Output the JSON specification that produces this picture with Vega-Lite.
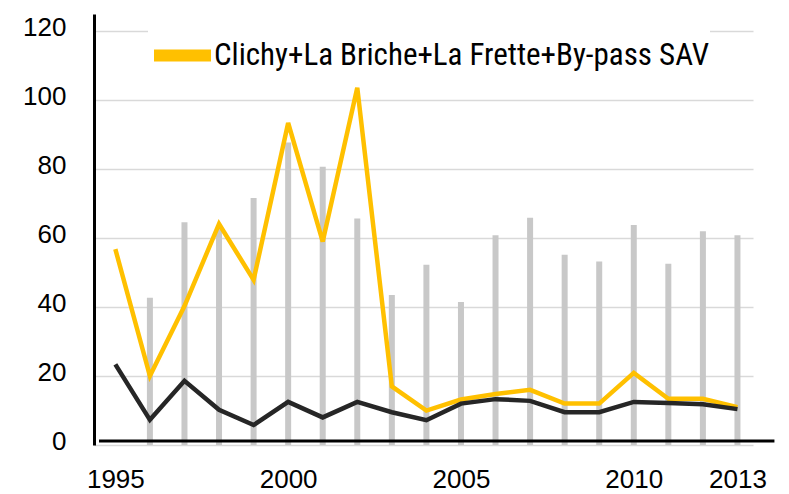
{
  "$schema": "https://vega.github.io/schema/vega-lite/v6.json",
  "autosize": {"type": "none"},
  "padding": {"left": 94, "top": 14, "right": 36, "bottom": 49},
  "width": 659,
  "height": 431,
  "background": "white",
  "config": {
    "view": {"stroke": null},
    "font": "Liberation Sans"
  },
  "data": {
    "values": [
      {"year": 1995, "bar": null, "orange": 56.8, "black": 23.4},
      {"year": 1996, "bar": 42.7, "orange": 20.0, "black": 7.3},
      {"year": 1997, "bar": 64.6, "orange": 40.3, "black": 18.6},
      {"year": 1998, "bar": 63.0, "orange": 64.1, "black": 10.2},
      {"year": 1999, "bar": 71.6, "orange": 47.9, "black": 5.8},
      {"year": 2000, "bar": 87.7, "orange": 93.4, "black": 12.5},
      {"year": 2001, "bar": 80.7, "orange": 59.0, "black": 8.0},
      {"year": 2002, "bar": 65.7, "orange": 103.6, "black": 12.5},
      {"year": 2003, "bar": 43.5, "orange": 17.0, "black": 9.5},
      {"year": 2004, "bar": 52.3, "orange": 10.0, "black": 7.2},
      {"year": 2005, "bar": 41.5, "orange": 13.2, "black": 12.0},
      {"year": 2006, "bar": 60.8, "orange": 14.8, "black": 13.3},
      {"year": 2007, "bar": 65.9, "orange": 16.0, "black": 12.8},
      {"year": 2008, "bar": 55.2, "orange": 12.0, "black": 9.5},
      {"year": 2009, "bar": 53.2, "orange": 12.0, "black": 9.5},
      {"year": 2010, "bar": 63.8, "orange": 20.9, "black": 12.5},
      {"year": 2011, "bar": 52.6, "orange": 13.4, "black": 12.2},
      {"year": 2012, "bar": 62.0, "orange": 13.4, "black": 11.8},
      {"year": 2013, "bar": 60.8, "orange": 11.0, "black": 10.4}
    ]
  },
  "encoding": {
    "x": {
      "field": "year",
      "type": "quantitative",
      "scale": {"domain": [1994.527, 2013.305], "nice": false, "zero": false},
      "axis": {
        "values": [1995, 2000, 2005, 2010, 2013],
        "format": "d",
        "title": null,
        "grid": false,
        "ticks": false,
        "domain": false,
        "labelFont": "Liberation Sans",
        "labelFontSize": 26,
        "labelColor": "black",
        "labelPadding": 21,
        "labelFlush": false,
        "labelOverlap": false
      }
    }
  },
  "layer": [
    {
      "mark": {"type": "bar", "color": "#c8c8c8", "size": 6},
      "encoding": {
        "y": {
          "field": "bar",
          "type": "quantitative",
          "scale": {"domain": [0, 125], "nice": false},
          "axis": {
            "values": [0, 20, 40, 60, 80, 100, 120],
            "title": null,
            "grid": true,
            "gridColor": "#d9d9d9",
            "gridWidth": 1.5,
            "ticks": false,
            "domain": true,
            "domainColor": "black",
            "domainWidth": 3,
            "labelFont": "Liberation Sans",
            "labelFontSize": 26,
            "labelColor": "black",
            "labelPadding": 28,
            "labelOffset": -4
          }
        }
      }
    },
    {
      "mark": {"type": "line", "strokeWidth": 4.5, "strokeJoin": "miter"},
      "encoding": {
        "y": {"field": "orange", "type": "quantitative"},
        "color": {
          "datum": "Clichy+La Briche+La Frette+By-pass SAV",
          "scale": {"range": ["#FFC000"]},
          "legend": {
            "title": null,
            "orient": "none",
            "legendX": 54,
            "legendY": 7,
            "padding": 0,
            "fillColor": "white",
            "symbolType": "stroke",
            "symbolSize": 3249,
            "symbolStrokeWidth": 12,
            "labelFont": "Liberation Sans Narrow, Roboto Condensed, DejaVu Sans Condensed, Liberation Sans",
            "labelFontSize": 31,
            "labelColor": "black",
            "labelLimit": 0,
            "labelOffset": -3
          }
        }
      }
    },
    {
      "mark": {"type": "line", "color": "#262626", "strokeWidth": 4.5, "strokeJoin": "miter"},
      "encoding": {
        "y": {"field": "black", "type": "quantitative"}
      }
    },
    {
      "data": {"values": [{"x0": 1994.527, "x1": 2014.07, "y0": 1.15}]},
      "mark": {"type": "rule", "color": "black", "strokeWidth": 3, "clip": false},
      "encoding": {
        "x": {"field": "x0", "type": "quantitative"},
        "x2": {"field": "x1"},
        "y": {"field": "y0", "type": "quantitative"}
      }
    }
  ]
}
